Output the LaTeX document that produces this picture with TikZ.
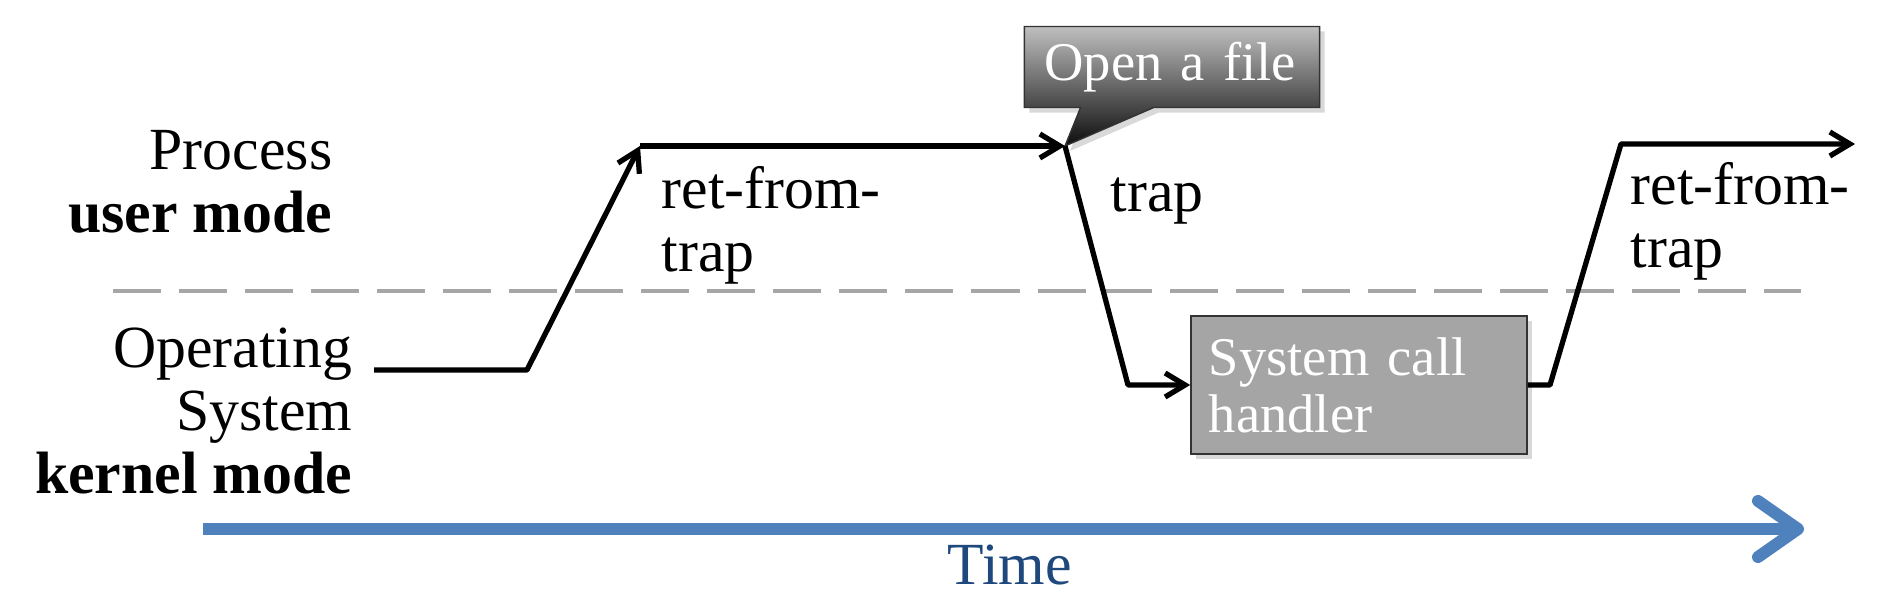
\documentclass[tikz,border=0pt]{standalone}
\usepackage{fontspec}
\setmainfont{Liberation Serif}
\usetikzlibrary{arrows.meta,shapes.callouts,shadows}
\definecolor{boxgray}{HTML}{A5A5A5}
\definecolor{dashgray}{HTML}{A6A6A6}
\definecolor{timeblue}{HTML}{4F81BD}
\definecolor{timetext}{HTML}{1F497D}
\begin{document}
\begin{tikzpicture}[x=0.01cm, y=-0.01cm]
\tikzset{etiq/.style={inner sep=0pt, font=\fontsize{17}{18}\selectfont},
  mode/.style={etiq, align=right},
  fil/.style={line width=1.5pt, line join=round},
  fleche/.style={fil, -{Straight Barb[length=2mm, width=2.4mm]}},
  boite/.style={draw=black!80, fill=boxgray, text=white, align=left,
    drop shadow={opacity=0.3, shadow xshift=0.5mm, shadow yshift=-0.5mm},
    font=\fontsize{15.5}{16.2}\selectfont}}
\useasboundingbox (0,0) rectangle (1884,610);
% modes
\draw[dashgray, line width=1.4pt, dash pattern=on 0.48cm off 0.18cm] (113,291) -- (1801,291);
\node[mode, anchor=base east] (user) at (333,233) {Process\\\textbf{user mode}};
\node[mode, anchor=base east] (kern) at (353,494) {Operating\\System\\\textbf{kernel mode}};
% chemin
\coordinate (K0) at (374,370);
\coordinate (K1) at (527,370);
\coordinate (U1) at (640,146);
\coordinate (U2) at (1065,146);
\coordinate (K2) at (1128,385);
\coordinate (K3) at (1550,385);
\coordinate (U3) at (1621,144);
\coordinate (U4) at (1855,144);
\node[boite, minimum width=3.36cm, minimum height=1.38cm, text width=3cm, inner xsep=0.18cm] (SCH) at (1359,385) {System call\\handler};
\node[boite, rectangle callout, callout absolute pointer={(U2)}, callout pointer width=0.73cm,
  top color=black!25, middle color=black!42, bottom color=black!95, minimum width=2.95cm,
  minimum height=0.81cm, text width=2.55cm, inner xsep=0.2cm] (OPEN) at (1172,67) {Open a file};
\draw[fleche] (K0) -- (K1) -- (U1);
\draw[fleche] (U1) -- (U2);
\draw[fleche] (U2) -- (K2) -- (SCH.west |- K2);
\draw[fleche] (SCH.east |- K3) -- (K3) -- (U3) -- (U4);
\node[etiq, align=left, anchor=base west] (ret1) at (661,272) {ret-from-\\trap};
\node[etiq, anchor=base west] (trap) at (1110,212) {trap};
\node[etiq, align=left, anchor=base west] (ret2) at (1630,268) {ret-from-\\trap};
% temps
\coordinate (T0) at (203,529);
\coordinate (T1) at (1804,529);
\draw[timeblue, line width=3.4pt, -{Straight Barb[length=4mm, width=5.6mm, round]}] (T0) -- (T1);
\node[etiq, text=timetext, anchor=base west] (time) at (947,585) {Time};
\end{tikzpicture}
\end{document}
